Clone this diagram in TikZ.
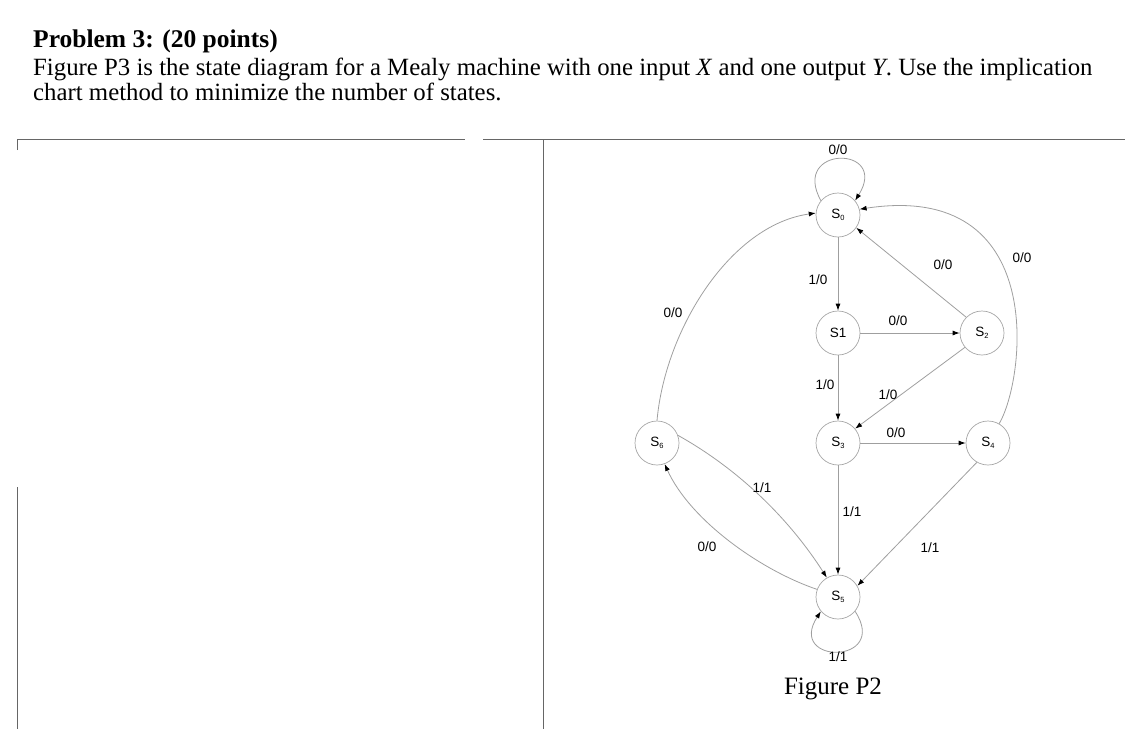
\documentclass[tikz,border=0pt]{standalone}
\usepackage{fontspec}
\setmainfont{Liberation Serif}
\newfontfamily\lab{Liberation Sans}
\usetikzlibrary{arrows.meta}
\newcommand{\sub}[1]{S\raisebox{-1.5pt}{\fontsize{7.5}{8}\selectfont #1}}
\begin{document}
\begin{tikzpicture}[x=1pt,y=-1pt,
  st/.style={circle,draw=gray!70,line width=0.7pt,minimum size=44pt,inner sep=0pt,font=\lab\fontsize{13.5}{14}\selectfont},
  ed/.style={draw=gray!75,line width=0.8pt,-{Latex[length=7pt,width=5pt,black]}},
  lb/.style={font=\lab\fontsize{13.5}{14}\selectfont,inner sep=1pt},
  fr/.style={draw=gray!80!black,line width=1pt}]
\useasboundingbox (0,0) rectangle (1125,729);
\node[anchor=base west,font=\bfseries\fontsize{25.5}{28}\selectfont,inner sep=0pt] (t) at (33,47) {Problem 3: (20 points)};
\node[anchor=base west,font=\fontsize{24.8}{28}\selectfont,inner sep=0pt] (p1) at (33,75) {Figure P3 is the state diagram for a Mealy machine with one input \textit{X} and one output \textit{Y}. Use the implication};
\node[anchor=base west,font=\fontsize{24.8}{28}\selectfont,inner sep=0pt] (p2) at (33,100) {chart method to minimize the number of states.};
\draw[fr] (17,150) -- (17,139) -- (465,139);
\draw[fr] (483,139) -- (1125,139);
\draw[fr] (543,139) -- (543,729);
\draw[fr] (17,487) -- (17,729);
\node[st] (s0) at (838,215) {\sub{0}};
\node[st] (s1) at (838,333) {S1};
\node[st] (s2) at (982,333) {\sub{2}};
\node[st] (s3) at (838,443) {\sub{3}};
\node[st] (s4) at (988,443) {\sub{4}};
\node[st] (s6) at (657,443) {\sub{6}};
\node[st] (s5) at (838,597) {\sub{5}};
\draw[ed] (s0.140) .. controls (790,145) and (890,145) .. (s0.40);
\node[lb] (l00) at (838,150) {0/0};
\draw[ed] (s0) -- (s1);
\node[lb] (la) at (818,280) {1/0};
\draw[ed] (s2.135) -- (s0.-35);
\node[lb] (lb2) at (943,265) {0/0};
\draw[ed] (s4.60) .. controls (1025,380) and (1050,180) .. (s0.15);
\node[lb] (lc) at (1022,258) {0/0};
\draw[ed] (s6.90) .. controls (665,330) and (730,225) .. (s0.175);
\node[lb] (ld) at (673,313) {0/0};
\draw[ed] (s1) -- (s2);
\node[lb] (le) at (898,321) {0/0};
\draw[ed] (s1) -- (s3);
\node[lb] (lf) at (825,385) {1/0};
\draw[ed] (s2.-140) -- (s3.40);
\node[lb] (lg) at (888,395) {1/0};
\draw[ed] (s3) -- (s4);
\node[lb] (lh) at (896,433) {0/0};
\draw[ed] (s3) -- (s5);
\node[lb] (li) at (852,512) {1/1};
\draw[ed] (s4.-120) -- (s5.30);
\node[lb] (lj) at (930,548) {1/1};
\draw[ed] (s6.20) .. controls (740,470) and (790,520) .. (s5.120);
\node[lb] (lk) at (762,488) {1/1};
\draw[ed] (s5.160) .. controls (760,570) and (690,520) .. (s6.-70);
\node[lb] (ll) at (707,547) {0/0};
\draw[ed] (s5.-40) .. controls (890,665) and (786,665) .. (s5.-140);
\node[lb] (l11) at (838,657) {1/1};
\node[font=\fontsize{25}{28}\selectfont] (fig) at (833,689) {Figure P2};
\end{tikzpicture}
\end{document}
